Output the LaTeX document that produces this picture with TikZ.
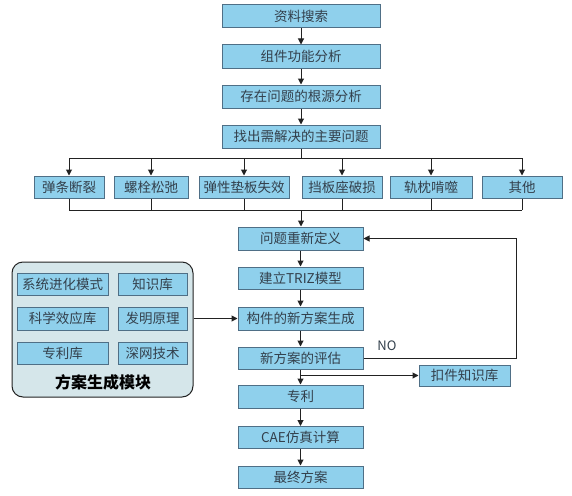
\documentclass[tikz,border=0pt]{standalone}
\usepackage{fontspec}
\setmainfont{Noto Sans CJK SC}
\newfontfamily\cjk{Noto Sans CJK SC}
\usetikzlibrary{arrows.meta}
\definecolor{boxfill}{HTML}{8FD0EC}
\definecolor{boxline}{HTML}{4F6F86}
\definecolor{modfill}{HTML}{D5E6EA}
\definecolor{txt}{HTML}{33404C}
\definecolor{ln}{HTML}{222222}
\tikzset{
  bx/.style={draw=boxline, line width=1pt, fill=boxfill, text=txt, inner sep=0pt,
    font=\cjk\fontsize{13.5}{15}\selectfont},
  colbox/.style={bx, minimum width=125pt, minimum height=22pt},
  topbox/.style={bx, minimum width=158pt, minimum height=23pt},
  rowbox/.style={bx, minimum height=22pt},
  conn/.style={draw=ln, line width=1pt},
  arr/.style={conn, -{Triangle[length=6pt,width=6pt]}},
}
\begin{document}
\begin{tikzpicture}[x=1pt,y=-1pt]
\useasboundingbox (0,0) rectangle (572,495);
% top chain
\node[topbox] (s1) at (301,16.5) {资料搜索};
\node[topbox] (s2) at (301,56.5) {组件功能分析};
\node[topbox] (s3) at (301,96.5) {存在问题的根源分析};
\node[topbox] (s4) at (301,136.5) {找出需解决的主要问题};
\draw[arr] (s1) -- (s2);
\draw[arr] (s2) -- (s3);
\draw[arr] (s3) -- (s4);
% row
\node[rowbox, minimum width=70pt] (r1) at (69,187) {弹条断裂};
\node[rowbox, minimum width=74pt] (r2) at (151,187) {螺栓松弛};
\node[rowbox, minimum width=90pt] (r3) at (244,187) {弹性垫板失效};
\node[rowbox, minimum width=80pt] (r4) at (342,187) {挡板座破损};
\node[rowbox, minimum width=82pt] (r5) at (431,187) {轨枕啃噬};
\node[rowbox, minimum width=80pt] (r6) at (522,187) {其他};
\coordinate (bt) at (301,158);
\coordinate (bb) at (301,210);
\draw[conn] (s4.south) -- (bt);
\draw[conn] (r1.north |- bt) -- (r6.north |- bt);
\foreach \r in {r1,r2,r3,r4,r5,r6}{
  \draw[arr] (\r.north |- bt) -- (\r.north);
  \draw[conn] (\r.south) -- (\r.south |- bb);
}
\draw[conn] (r1.south |- bb) -- (r6.south |- bb);
% lower chain
\node[colbox, minimum height=23pt] (q1) at (300.5,238.5) {问题重新定义};
\node[colbox] (q2) at (300.5,278) {建立TRIZ模型};
\node[colbox, minimum height=23pt] (q3) at (300.5,318.5) {构件的新方案生成};
\node[colbox] (q4) at (300.5,358) {新方案的评估};
\node[colbox, minimum height=23pt] (q5) at (300.5,396.5) {专利};
\node[colbox] (q6) at (300.5,437.5) {CAE仿真计算};
\node[colbox] (q7) at (300.5,477) {最终方案};
\draw[arr] (bb) -- (q1.north -| bb);
\draw[arr] (q1) -- (q2);
\draw[arr] (q2) -- (q3);
\draw[arr] (q3) -- (q4);
\draw[arr] (q4) -- (q5);
\draw[arr] (q5) -- (q6);
\draw[arr] (q6) -- (q7);
% knowledge base
\node[rowbox, minimum width=91pt, minimum height=21pt] (kb) at (464.5,375.5) {扣件知识库};
\coordinate (kj) at (300.5,375.5);
\draw[arr] (kj) -- (kb.west);
% feedback
\coordinate (fb) at (516,358);
\draw[arr] (q4.east) -- (fb) |- (q1.east);
\node[text=txt, font=\fontsize{13}{15}\selectfont] (no) at (387,346) {NO};
% module
\node[draw=ln, line width=1pt, fill=modfill, rounded corners=11pt,
  minimum width=181pt, minimum height=135pt, inner sep=0pt] (mod) at (102.5,329.5) {};
\node[rowbox, minimum width=91pt] (m1) at (62.5,284) {系统进化模式};
\node[rowbox, minimum width=69pt] (m2) at (152.5,284) {知识库};
\node[rowbox, minimum width=91pt, minimum height=23pt] (m3) at (62.5,318.5) {科学效应库};
\node[rowbox, minimum width=69pt, minimum height=23pt] (m4) at (152.5,318.5) {发明原理};
\node[rowbox, minimum width=91pt] (m5) at (62.5,353) {专利库};
\node[rowbox, minimum width=69pt] (m6) at (152.5,353) {深网技术};
\node[text=black, font=\cjk\bfseries\fontsize{16}{18}\selectfont] (ml) at (103,382) {方案生成模块};
\draw[arr] (mod.east |- q3) -- (q3.west);
\end{tikzpicture}
\end{document}
